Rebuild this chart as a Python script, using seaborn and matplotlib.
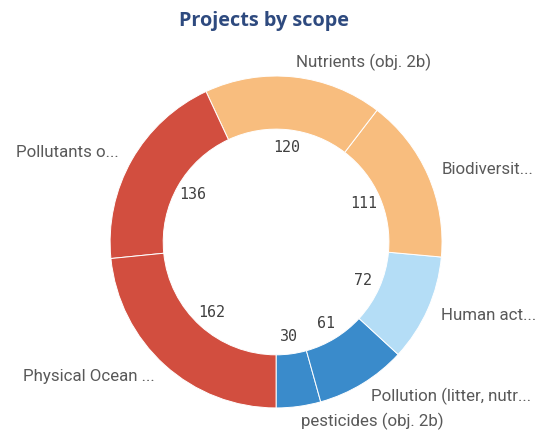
import matplotlib
matplotlib.use("Agg")
import matplotlib.pyplot as plt
import seaborn as sns

# slices listed counter-clockwise starting from 6 o'clock
scopes = ["pesticides (obj. 2b)", "Pollution (litter, nutr...", "Human act...",
          "Biodiversit...", "Nutrients (obj. 2b)", "Pollutants o...", "Physical Ocean ..."]
projects = [30, 61, 72, 111, 120, 136, 162]
colors = ["#3a8bcb", "#3a8bcb", "#b4ddf6", "#f8bd7e", "#f8bd7e", "#d24e3f", "#d24e3f"]

sns.set_theme(style="white")
plt.rcParams['font.family'] = ['Roboto', 'DejaVu Sans']

fig = plt.figure(figsize=(5.44, 4.36), dpi=100)
ax = fig.add_axes([0, 0, 1, 1])

wedges, texts, autotexts = ax.pie(
    projects, labels=scopes, colors=colors, startangle=-90, counterclock=True,
    radius=1.0, labeldistance=1.09, pctdistance=0.575,
    autopct=lambda p: "{:.0f}".format(p * sum(projects) / 100),
    wedgeprops=dict(width=0.32, edgecolor="white", linewidth=0.7),
    textprops=dict(fontsize=12.2, color="#595959"))

for t in autotexts:
    t.set_fontfamily("DejaVu Sans Mono")
    t.set_fontsize(10.8)
    t.set_color("#404040")

ax.set_xlim(-1.663, 1.614)
ax.set_ylim(-1.169, 1.458)
ax.set_aspect("equal")
ax.axis("off")

fig.text(0.486, 0.951, "Projects by scope", ha="center", va="center",
         fontsize=14.3, fontweight="bold", color="#2e4a7f", family=["Open Sans", "DejaVu Sans"])

fig.savefig("out.png", dpi=100)
